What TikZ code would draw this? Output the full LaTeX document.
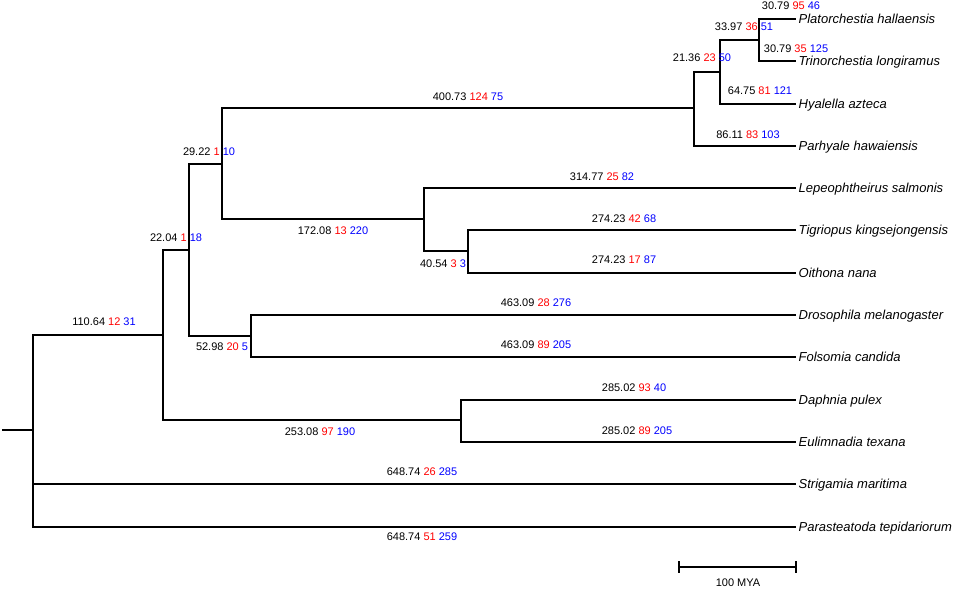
\documentclass[tikz,border=0pt]{standalone}
\usepackage{fontspec}
\setmainfont{Liberation Sans}
\tikzset{
  leaf/.style={anchor=west, inner sep=2pt, outer sep=0pt, font=\fontsize{9.75}{11}\selectfont\itshape, text height=7pt, text depth=0pt},
  blab/.style={inner sep=0pt, font=\fontsize{8.25}{10}\selectfont},
}
\newcommand{\brl}[3]{#1 \textcolor{red}{#2} \textcolor{blue}{#3}}
\begin{document}
\begin{tikzpicture}[x=0.75pt, y=-0.75pt, line width=1.4pt]
	\useasboundingbox (0,0) rectangle (957,589);
	% inner nodes
	\coordinate (base) at (2,430);
	\coordinate (n1) at (33,430);
	\coordinate (n2) at (163,335);
	\coordinate (n3) at (189,250);
	\coordinate (n4) at (222,164);
	\coordinate (n5) at (694,108);
	\coordinate (n6) at (720,72);
	\coordinate (n7) at (759,40);
	\coordinate (n8) at (424,219);
	\coordinate (n9) at (468,251);
	\coordinate (n10) at (251,336);
	\coordinate (n11) at (461,420);
	% leaves
	\node[leaf] (plat) at (796,19) {Platorchestia hallaensis};
	\node[leaf] (trin) at (796,61) {Trinorchestia longiramus};
	\node[leaf] (hyal) at (796,104) {Hyalella azteca};
	\node[leaf] (parh) at (796,146) {Parhyale hawaiensis};
	\node[leaf] (lepe) at (796,188) {Lepeophtheirus salmonis};
	\node[leaf] (tigr) at (796,230) {Tigriopus kingsejongensis};
	\node[leaf] (oith) at (796,273) {Oithona nana};
	\node[leaf] (dros) at (796,315) {Drosophila melanogaster};
	\node[leaf] (fols) at (796,357) {Folsomia candida};
	\node[leaf] (daph) at (796,400) {Daphnia pulex};
	\node[leaf] (euli) at (796,442) {Eulimnadia texana};
	\node[leaf] (stri) at (796,484) {Strigamia maritima};
	\node[leaf] (para) at (796,527) {Parasteatoda tepidariorum};
	% branches
	\draw (base) -- (n1);
	\draw (n1) |- (n2);
	\draw (n1) |- (stri);
	\draw (n1) |- (para);
	\draw (n2) |- (n3);
	\draw (n2) |- (n11);
	\draw (n3) |- (n4);
	\draw (n3) |- (n10);
	\draw (n4) |- (n5);
	\draw (n4) |- (n8);
	\draw (n5) |- (n6);
	\draw (n5) |- (parh);
	\draw (n6) |- (n7);
	\draw (n6) |- (hyal);
	\draw (n7) |- (plat);
	\draw (n7) |- (trin);
	\draw (n8) |- (lepe);
	\draw (n8) |- (n9);
	\draw (n9) |- (tigr);
	\draw (n9) |- (oith);
	\draw (n10) |- (dros);
	\draw (n10) |- (fols);
	\draw (n11) |- (daph);
	\draw (n11) |- (euli);
	% branch labels
	\node[blab] (l1) at (104,322) {\brl{110.64}{12}{31}};
	\node[blab] (l2) at (176,238) {\brl{22.04}{1}{18}};
	\node[blab] (l3) at (209,152) {\brl{29.22}{1}{10}};
	\node[blab] (l4) at (468,97) {\brl{400.73}{124}{75}};
	\node[blab] (l5) at (702,58) {\brl{21.36}{23}{50}};
	\node[blab] (l6) at (744,27) {\brl{33.97}{36}{51}};
	\node[blab] (l7) at (791,6) {\brl{30.79}{95}{46}};
	\node[blab] (l8) at (796,49) {\brl{30.79}{35}{125}};
	\node[blab] (l9) at (760,91) {\brl{64.75}{81}{121}};
	\node[blab] (l10) at (748,135) {\brl{86.11}{83}{103}};
	\node[blab] (l11) at (333,231) {\brl{172.08}{13}{220}};
	\node[blab] (l12) at (602,177) {\brl{314.77}{25}{82}};
	\node[blab] (l13) at (443,264) {\brl{40.54}{3}{3}};
	\node[blab] (l14) at (624,219) {\brl{274.23}{42}{68}};
	\node[blab] (l15) at (624,260) {\brl{274.23}{17}{87}};
	\node[blab] (l16) at (222,347) {\brl{52.98}{20}{5}};
	\node[blab] (l17) at (536,303) {\brl{463.09}{28}{276}};
	\node[blab] (l18) at (536,345) {\brl{463.09}{89}{205}};
	\node[blab] (l19) at (320,432) {\brl{253.08}{97}{190}};
	\node[blab] (l20) at (634,388) {\brl{285.02}{93}{40}};
	\node[blab] (l21) at (637,431) {\brl{285.02}{89}{205}};
	\node[blab] (l22) at (422,472) {\brl{648.74}{26}{285}};
	\node[blab] (l23) at (422,537) {\brl{648.74}{51}{259}};
	% scale bar
	\draw (679,561) -- (679,573) (679,567) -- (796,567) (796,561) -- (796,573);
	\node[blab] (sbar) at (738,583) {100 MYA};
\end{tikzpicture}
\end{document}
